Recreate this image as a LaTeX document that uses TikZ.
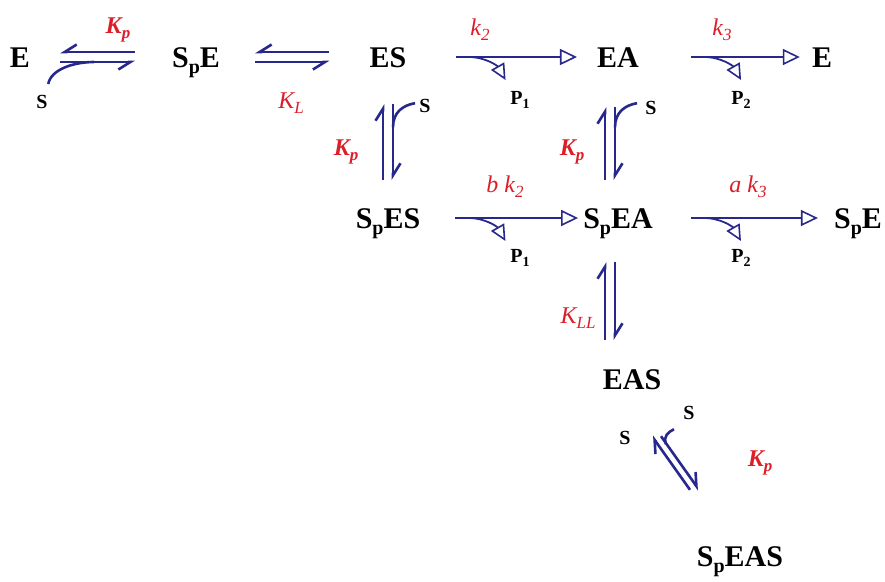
\documentclass[tikz,border=0pt]{standalone}
\usepackage{fontspec}
\setmainfont{Liberation Serif}
\usetikzlibrary{arrows.meta}

\definecolor{arrowblue}{RGB}{40,40,140}
\definecolor{ratered}{RGB}{220,30,40}

\newcommand{\spp}{\raisebox{-6pt}{\fontsize{20}{20}\selectfont p}}
\newcommand{\rsub}[1]{\raisebox{-5pt}{\fontsize{17}{17}\selectfont #1}}
\newcommand{\psub}[1]{\raisebox{-4pt}{\fontsize{14}{14}\selectfont #1}}

\tikzset{
  species/.style={inner sep=0pt, text height=20pt, text depth=0pt,
    font=\fontsize{30}{34}\selectfont\bfseries},
  rate/.style={text=ratered, inner sep=0pt, font=\fontsize{24}{28}\selectfont\itshape},
  ratebold/.style={rate, font=\fontsize{24}{28}\selectfont\bfseries\itshape},
  prod/.style={inner sep=0pt, font=\fontsize{20}{24}\selectfont\bfseries},
  eqL/.style={draw=arrowblue, line width=2.6pt,
    -{Straight Barb[left,length=12pt,width=15pt]}},
  eqR/.style={draw=arrowblue, line width=2.6pt,
    -{Straight Barb[right,length=12pt,width=15pt]}},
  fwd/.style={draw=arrowblue, line width=2.6pt,
    -{Triangle[open,length=17pt,width=16pt,line width=1.6pt]}},
  rel/.style={draw=arrowblue, line width=1.8pt,
    -{Triangle[open,length=16pt,width=15pt,line width=1.6pt]}},
  lig/.style={draw=arrowblue, line width=2.6pt},
}

\begin{document}
\begin{tikzpicture}[x=1pt,y=-1pt]
  \useasboundingbox (0,0) rectangle (885,581);
  % species
  \node[species] (E1)    at (20,57)   {E};
  \node[species] (SpE1)  at (196,57)  {S\spp E};
  \node[species] (ES)    at (388,57)  {ES};
  \node[species] (EA)    at (618,57)  {EA};
  \node[species] (E2)    at (822,57)  {E};
  \node[species] (SpES)  at (388,218) {S\spp ES};
  \node[species] (SpEA)  at (618,218) {S\spp EA};
  \node[species] (SpE2)  at (858,218) {S\spp E};
  \node[species] (EAS)   at (632,379) {EAS};
  \node[species] (SpEAS) at (740,556) {S\spp EAS};

  % E + S <=> SpE
  \draw[eqR] ([shift={(-37,-5)}]SpE1.west) -- ([shift={(30,-5)}]E1.east);
  \draw[eqR] ([shift={(30,5)}]E1.east) -- ([shift={(-37,5)}]SpE1.west);
  \draw[lig] ([shift={(18,27)}]E1.east) .. controls +(3,-15) and +(-20,0) .. ([shift={(64,5)}]E1.east);
  % SpE <=> ES
  \draw[eqR] ([shift={(-40,-5)}]ES.west) -- ([shift={(35,-5)}]SpE1.east);
  \draw[eqR] ([shift={(35,5)}]SpE1.east) -- ([shift={(-40,5)}]ES.west);

  % ES -> EA + P1
  \draw[fwd] ([xshift=49pt]ES.east) -- ([xshift=-20pt]EA.west);
  \draw[rel] ([xshift=62pt]ES.east) .. controls +(17,0) and +(-8,-14) .. ([shift={(99,23)}]ES.east);
  % EA -> E + P2
  \draw[fwd] ([xshift=52pt]EA.east) -- ([xshift=-12pt]E2.west);
  \draw[rel] ([xshift=65pt]EA.east) .. controls +(17,0) and +(-8,-14) .. ([shift={(102,23)}]EA.east);
  % SpES -> SpEA + P1
  \draw[fwd] ([xshift=35pt]SpES.east) -- ([xshift=-5pt]SpEA.west);
  \draw[rel] ([xshift=48pt]SpES.east) .. controls +(17,0) and +(-8,-14) .. ([shift={(85,23)}]SpES.east);
  % SpEA -> SpE + P2
  \draw[fwd] ([xshift=38pt]SpEA.east) -- ([xshift=-16pt]SpE2.west);
  \draw[rel] ([xshift=51pt]SpEA.east) .. controls +(17,0) and +(-8,-14) .. ([shift={(88,23)}]SpEA.east);

  % ES + S <=> SpES
  \draw[eqL] ([shift={(-5,-28)}]SpES.north) -- ([shift={(-5,37)}]ES.south);
  \draw[eqL] ([shift={(5,37)}]ES.south) -- ([shift={(5,-28)}]SpES.north);
  \draw[lig] ([shift={(5,60)}]ES.south) .. controls +(0,-15) and +(-12,2) .. ([shift={(27,36)}]ES.south);
  % EA + S <=> SpEA
  \draw[eqL] ([shift={(-13,-28)}]SpEA.north) -- ([shift={(-13,40)}]EA.south);
  \draw[eqL] ([shift={(-3,40)}]EA.south) -- ([shift={(-3,-28)}]SpEA.north);
  \draw[lig] ([shift={(-3,60)}]EA.south) .. controls +(0,-15) and +(-12,2) .. ([shift={(19,36)}]EA.south);
  % SpEA <=> EAS
  \draw[eqL] ([shift={(-27,-29)}]EAS.north) -- ([shift={(-13,34)}]SpEA.south);
  \draw[eqL] ([shift={(-3,34)}]SpEA.south) -- ([shift={(-17,-29)}]EAS.north);
  % EAS + S <=> SpEAS
  \draw[eqL] ([shift={(-50,-56)}]SpEAS.north) -- ([shift={(20,47)}]EAS.south);
  \draw[eqL] ([shift={(29,47)}]EAS.south) -- ([shift={(-41,-56)}]SpEAS.north);
  \draw[lig] ([shift={(34,55)}]EAS.south) .. controls +(-3,-8) and +(-6,3) .. ([shift={(42,40)}]EAS.south);

  % rate constants
  \node[ratebold] (kp1) at (118,30)  {K\rsub{p}};
  \node[rate]     (kl)  at (291,103) {K\rsub{L}};
  \node[rate]     (k2a) at (480,30)  {k\rsub{2}};
  \node[rate]     (k3a) at (722,30)  {k\rsub{3}};
  \node[ratebold] (kp2) at (346,152) {K\rsub{p}};
  \node[ratebold] (kp3) at (572,152) {K\rsub{p}};
  \node[rate]     (k2b) at (505,187) {b k\rsub{2}};
  \node[rate]     (k3b) at (748,187) {a k\rsub{3}};
  \node[rate]     (kll) at (578,318) {K\rsub{LL}};
  \node[ratebold] (kp4) at (760,463) {K\rsub{p}};

  % products and substrate
  \node[prod] (p1a) at (520,100) {P\psub{1}};
  \node[prod] (p2a) at (741,100) {P\psub{2}};
  \node[prod] (p1b) at (520,258) {P\psub{1}};
  \node[prod] (p2b) at (741,258) {P\psub{2}};
  \node[prod] (s1) at (42,102)  {S};
  \node[prod] (s2) at (425,106) {S};
  \node[prod] (s3) at (651,108) {S};
  \node[prod] (s4) at (625,438) {S};
  \node[prod] (s5) at (689,413) {S};
\end{tikzpicture}
\end{document}
